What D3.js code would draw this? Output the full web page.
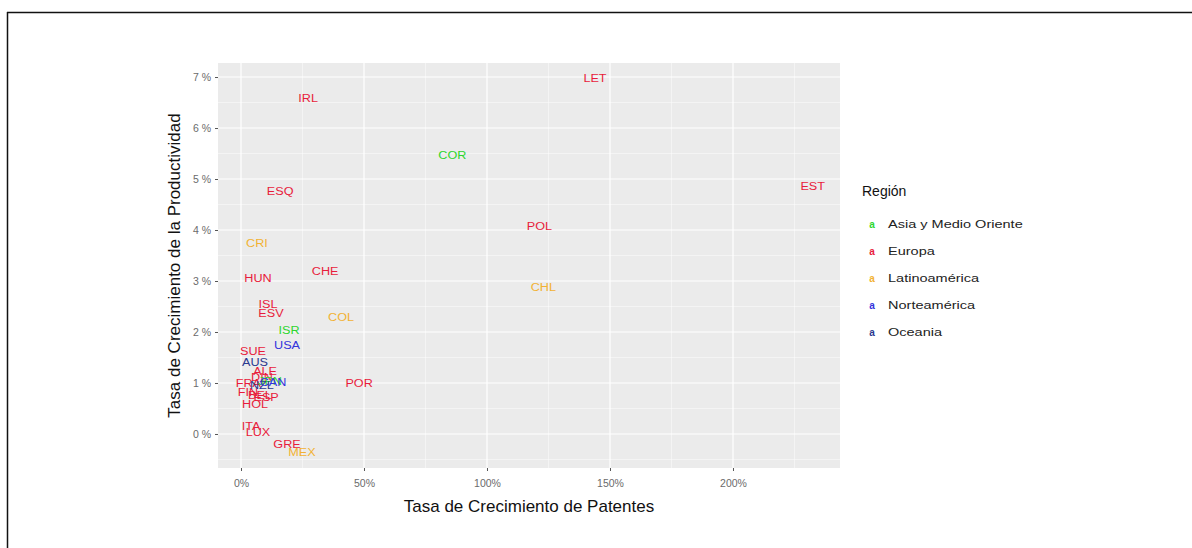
<!DOCTYPE html>
<html><head><meta charset="utf-8">
<script src="https://cdn.jsdelivr.net/npm/d3@7"></script>
<style>body{margin:0;background:#fff;} svg{display:block;font-family:"Liberation Sans",Arial,sans-serif;}</style>
</head><body>
<svg id="c" width="1192" height="548"></svg>
<script>
const codes   = ["LET","IRL","EST","ESQ","POL","CHE","HUN","ISL","ESV","SUE","ALE","DIN","POR","FRA","FIN","BEL","ESP","HOL","ITA","LUX","GRE",
                 "COR","ISR","JPN",
                 "CRI","COL","CHL","MEX",
                 "USA","CAN",
                 "AUS","NZL"];
const regions = ["Europa","Europa","Europa","Europa","Europa","Europa","Europa","Europa","Europa","Europa","Europa","Europa","Europa","Europa","Europa","Europa","Europa","Europa","Europa","Europa","Europa",
                 "Asia y Medio Oriente","Asia y Medio Oriente","Asia y Medio Oriente",
                 "Latinoamérica","Latinoamérica","Latinoamérica","Latinoamérica",
                 "Norteamérica","Norteamérica",
                 "Oceania","Oceania"];
const patentGrowth = [143.9,27.3,232.4,15.9,121.3,34.2,6.9,11.0,12.2,4.9,9.8,8.5,48.0,3.0,2.8,7.7,10.2,5.7,4.1,6.9,18.7,
                      85.9,19.5,11.8,
                      6.5,40.7,122.9,24.8,
                      18.7,13.0,
                      5.7,8.5];
const prodGrowth   = [6.98,6.59,4.86,4.76,4.08,3.20,3.06,2.55,2.37,1.63,1.24,1.12,1.00,1.00,0.82,0.76,0.73,0.59,0.16,0.04,-0.20,
                      5.47,2.04,1.04,
                      3.75,2.29,2.88,-0.35,
                      1.75,1.02,
                      1.41,0.96];
const regionLevels = ["Asia y Medio Oriente","Europa","Latinoamérica","Norteamérica","Oceania"];
const regionColors = ["#2ed62e","#e81c3c","#f2b233","#3434dc","#2b3990"];
const xTicks = [0,50,100,150,200];
const yTicks = [0,1,2,3,4,5,6,7];
const xLimits = [-9.35, 243.5];
const yLimits = [-0.667, 7.275];

const svg = d3.select("#c");
svg.append("line").attr("x1",7).attr("x2",1192).attr("y1",12.5).attr("y2",12.5).attr("stroke","#111").attr("stroke-width",1.5);
svg.append("line").attr("x1",7.5).attr("x2",7.5).attr("y1",12).attr("y2",548).attr("stroke","#111").attr("stroke-width",1.5);

const P = {l:218, r:840, t:63, b:468};
const data = codes.map((c,i)=>({c, r:regions[i], x:patentGrowth[i], y:prodGrowth[i]}));
const x = d3.scaleLinear().domain(xLimits).range([P.l,P.r]);
const y = d3.scaleLinear().domain(yLimits).range([P.b,P.t]);
const color = d3.scaleOrdinal().domain(regionLevels).range(regionColors);

svg.append("rect").attr("x",P.l).attr("y",P.t).attr("width",P.r-P.l).attr("height",P.b-P.t).attr("fill","#EBEBEB");
const g = svg.append("g");
const xMinor = [25,75,125,175,225].filter(v=>x(v)>P.l && x(v)<P.r);
const yMinor = [-0.5,0.5,1.5,2.5,3.5,4.5,5.5,6.5].filter(v=>y(v)>P.t && y(v)<P.b);
g.selectAll(".xm").data(xMinor).join("line").attr("x1",d=>x(d)).attr("x2",d=>x(d)).attr("y1",P.t).attr("y2",P.b).attr("stroke","#fff").attr("stroke-width",0.6).attr("opacity",0.8);
g.selectAll(".ym").data(yMinor).join("line").attr("y1",d=>y(d)).attr("y2",d=>y(d)).attr("x1",P.l).attr("x2",P.r).attr("stroke","#fff").attr("stroke-width",0.6).attr("opacity",0.8);
g.selectAll(".xM").data(xTicks).join("line").attr("x1",d=>x(d)).attr("x2",d=>x(d)).attr("y1",P.t).attr("y2",P.b).attr("stroke","#fff").attr("stroke-width",1.2);
g.selectAll(".yM").data(yTicks).join("line").attr("y1",d=>y(d)).attr("y2",d=>y(d)).attr("x1",P.l).attr("x2",P.r).attr("stroke","#fff").attr("stroke-width",1.2);

const xAxis = d3.axisBottom(x).tickValues(xTicks).tickFormat(d=>d+"%").tickSize(3).tickPadding(9);
const yAxis = d3.axisLeft(y).tickValues(yTicks).tickFormat(d=>d+" %").tickSize(3).tickPadding(4);
const gx = svg.append("g").attr("transform",`translate(0,${P.b})`).call(xAxis);
const gy = svg.append("g").attr("transform",`translate(${P.l},0)`).call(yAxis);
[gx,gy].forEach(a=>{a.select(".domain").remove();a.selectAll(".tick line").attr("stroke","#555");a.selectAll("text").attr("fill","#6b6b6b").attr("font-size",10.5);});

svg.append("g").selectAll("text").data(data).join("text")
  .attr("transform",d=>`translate(${x(d.x)},${y(d.y)}) scale(1.1,1)`).attr("dy","0.36em")
  .attr("text-anchor","middle").attr("font-size",11.5).attr("fill",d=>color(d.r)).text(d=>d.c);

svg.append("text").attr("x",(P.l+P.r)/2).attr("y",512).attr("text-anchor","middle").attr("font-size",17).attr("fill","#111").text("Tasa de Crecimiento de Patentes");
svg.append("text").attr("transform",`translate(180,${(P.t+P.b)/2}) rotate(-90)`).attr("text-anchor","middle").attr("font-size",17).attr("fill","#111").text("Tasa de Crecimiento de la Productividad");

const lg = svg.append("g").attr("transform","translate(862,0)");
lg.append("text").attr("x",0).attr("y",196).attr("font-size",14).attr("fill","#111").text("Región");
const items = lg.selectAll("g").data(regionLevels).join("g").attr("transform",(d,i)=>`translate(0,${224+i*27})`);
items.append("text").attr("x",10).attr("dy","0.35em").attr("text-anchor","middle").attr("font-size",10).attr("font-weight","bold").attr("fill",d=>color(d)).text("a");
items.append("text").attr("transform","translate(26,0) scale(1.32,1)").attr("dy","0.35em").attr("font-size",11).attr("fill","#222").text(d=>d);
</script>
</body></html>
